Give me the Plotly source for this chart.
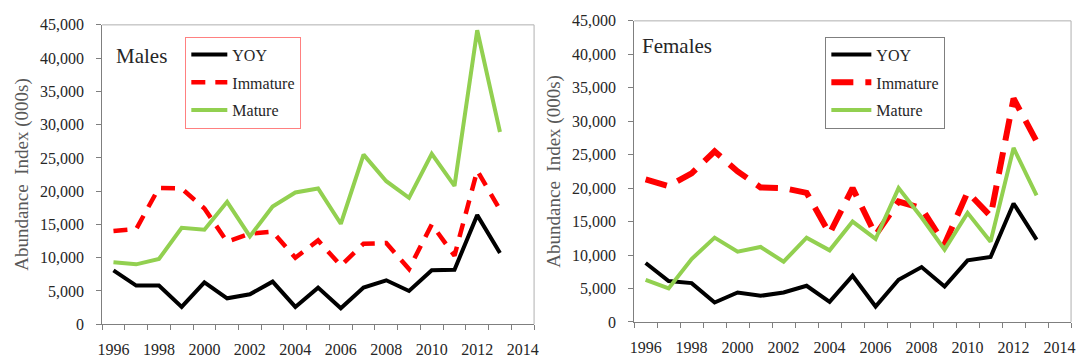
import plotly.graph_objects as go

# Survey years
years = list(range(1996, 2014))

# Abundance index (000s) by life stage, males
male_yoy = [8100, 5800, 5800, 2600, 6300, 3900, 4500, 6400, 2600, 5500,
            2400, 5500, 6600, 5000, 8100, 8200, 16400, 10700]
male_immature = [14000, 14300, 20500, 20400, 17400, 12400, 13600, 13900, 10000, 12600,
                 8800, 12100, 12200, 8300, 15000, 10300, 23100, 17200]
male_mature = [9300, 9000, 9800, 14500, 14200, 18400, 13200, 17700, 19800, 20400,
               15100, 25500, 21500, 19000, 25600, 20800, 44200, 28900]

# Abundance index (000s) by life stage, females
female_yoy = [8800, 6100, 5800, 2900, 4400, 3900, 4400, 5400, 3000, 6900,
              2300, 6300, 8200, 5300, 9200, 9700, 17700, 12300]
female_immature = [21300, 20300, 22200, 25500, 22500, 20100, 20000, 19300, 13200, 20000,
                   13000, 18000, 17000, 11600, 19400, 15800, 33400, 27000]
female_mature = [6300, 5000, 9400, 12600, 10500, 11200, 9000, 12600, 10700, 15000,
                 12400, 20000, 15600, 10800, 16300, 12000, 26000, 18900]

panel_titles = ["Males", "Females"]
series_names = ["YOY", "Immature", "Mature"]
year_labels = [str(y) for y in range(1996, 2015, 2)]

FONT = "'Liberation Serif', 'Times New Roman', Times, serif"
BLACK = "#000000"
RED = "#ff0000"
GREEN = "#92d050"
AXIS_COLOR = "#7f7f7f"
BORDER_COLOR = "#b0b0b0"

W, H = 1082, 364

fig = go.Figure()

panels = [
    dict(yoy=male_yoy, imm=male_immature, mat=male_mature, xa="x", ya="y",
         legend="legend", dash="14px,10px", dash_w=4.5),
    dict(yoy=female_yoy, imm=female_immature, mat=female_mature, xa="x2", ya="y2",
         legend="legend2", dash="22px,12px", dash_w=6),
]

for p in panels:
    fig.add_trace(go.Scatter(x=years, y=p["yoy"], name=series_names[0], mode="lines",
                             line=dict(color=BLACK, width=4), xaxis=p["xa"], yaxis=p["ya"],
                             legend=p["legend"], legendgroup=p["legend"] + "a"))
    fig.add_trace(go.Scatter(x=years, y=p["imm"], name=series_names[1], mode="lines",
                             line=dict(color=RED, width=p["dash_w"], dash=p["dash"]),
                             xaxis=p["xa"], yaxis=p["ya"],
                             legend=p["legend"], legendgroup=p["legend"] + "b"))
    fig.add_trace(go.Scatter(x=years, y=p["mat"], name=series_names[2], mode="lines",
                             line=dict(color=GREEN, width=4), xaxis=p["xa"], yaxis=p["ya"],
                             legend=p["legend"], legendgroup=p["legend"] + "c"))


def xaxis_cfg(domain, anchor):
    return dict(
        domain=domain, anchor=anchor, range=[1995.5, 2014.5],
        tickmode="array", tickvals=list(range(1996, 2015, 2)), ticktext=year_labels,
        ticks="", showgrid=False, zeroline=False,
        showline=True, linecolor=AXIS_COLOR, linewidth=1,
        tickfont=dict(family=FONT, size=16, color="#262626"),
        ticklabelstandoff=11,
        minor=dict(tickmode="array", tickvals=[y + 0.5 for y in range(1995, 2015)],
                   ticks="outside", ticklen=5, tickcolor=AXIS_COLOR, tickwidth=1,
                   showgrid=False),
    )


def yaxis_cfg(domain, anchor):
    return dict(
        domain=domain, anchor=anchor, range=[0, 45000],
        tickmode="linear", tick0=0, dtick=5000, tickformat=",d",
        ticks="outside", ticklen=5, tickcolor=AXIS_COLOR, tickwidth=1,
        showgrid=False, zeroline=False,
        showline=True, linecolor=AXIS_COLOR, linewidth=1,
        tickfont=dict(family=FONT, size=16, color="#262626"),
        ticklabelstandoff=9,
        title=dict(text="Abundance\u00a0 Index (000s)",
                   font=dict(family=FONT, size=19, color="#595959"), standoff=6),
    )


fig.update_layout(
    width=W, height=H,
    margin=dict(l=0, r=0, t=0, b=0),
    font=dict(family=FONT),
    paper_bgcolor="white", plot_bgcolor="white",
    xaxis=xaxis_cfg([98 / W, 534 / W], "y"),
    yaxis=yaxis_cfg([1 - 331.7 / H, 1 - 17.7 / H], "x"),
    xaxis2=xaxis_cfg([635 / W, 1076 / W], "y2"),
    yaxis2=yaxis_cfg([1 - 329.3 / H, 1 - 13.5 / H], "x2"),
    legend=dict(x=182 / W, y=1 - 30 / H, xanchor="left", yanchor="top",
                bordercolor="#ff8080", borderwidth=1, bgcolor="white",
                font=dict(family=FONT, size=16, color="#262626"),
                traceorder="grouped", tracegroupgap=4, itemwidth=36),
    legend2=dict(x=828 / W, y=1 - 30 / H, xanchor="left", yanchor="top",
                 bordercolor="#7f7f7f", borderwidth=1, bgcolor="white",
                 font=dict(family=FONT, size=16, color="#262626"),
                 traceorder="grouped", tracegroupgap=4, itemwidth=40),
    showlegend=True,
)

# Top and right frame lines of each plot area
for xr, yr in [("x", "y"), ("x2", "y2")]:
    fig.add_shape(type="line", xref=f"{xr} domain", yref=f"{yr} domain",
                  x0=0, x1=1, y0=1, y1=1, line=dict(color=BORDER_COLOR, width=1))
    fig.add_shape(type="line", xref=f"{xr} domain", yref=f"{yr} domain",
                  x0=1, x1=1, y0=0, y1=1, line=dict(color=BORDER_COLOR, width=1))

# Panel labels
fig.add_annotation(text=panel_titles[0], xref="x domain", yref="y domain",
                   x=(110 - 98) / 436, y=1 - (50.7 - 17.7) / 314, xanchor="left", yanchor="middle",
                   showarrow=False, font=dict(family=FONT, size=21, color="#262626"))
fig.add_annotation(text=panel_titles[1], xref="x2 domain", yref="y2 domain",
                   x=(641 - 635) / 441, y=1 - (40 - 13.5) / 316, xanchor="left", yanchor="middle",
                   showarrow=False, font=dict(family=FONT, size=21, color="#262626"))

fig.write_html("out.html")
